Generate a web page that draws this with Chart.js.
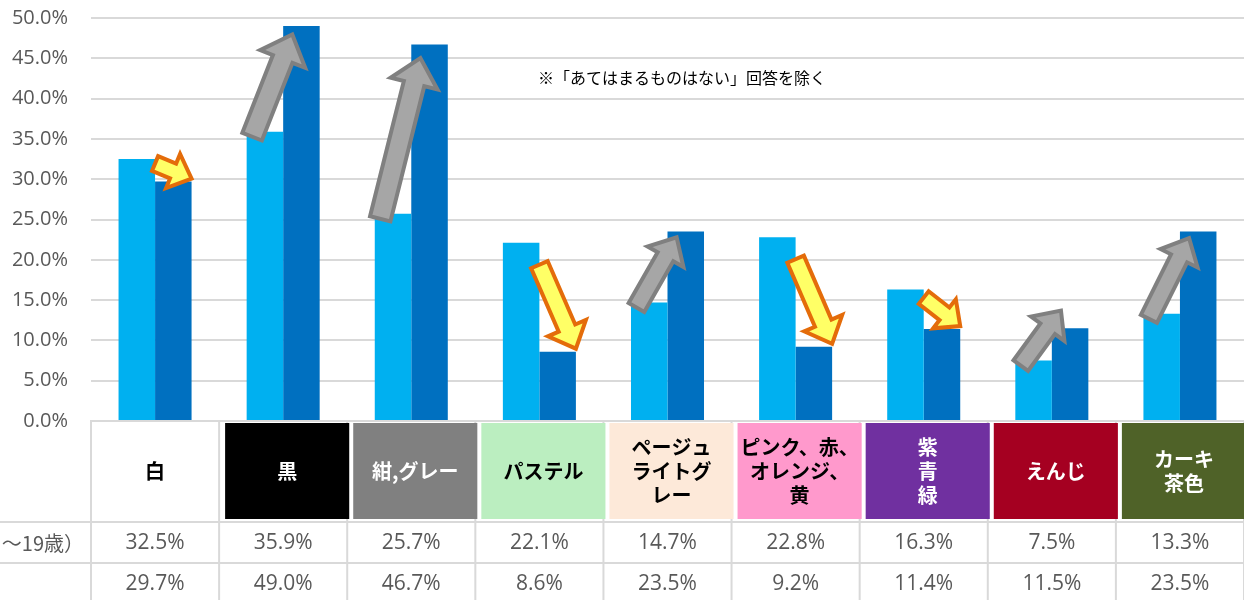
<!DOCTYPE html>
<html>
<head>
<meta charset="utf-8">
<script src="https://cdn.jsdelivr.net/npm/chart.js@4"></script>
<style>
  html, body { margin: 0; padding: 0; background: #fff; }
  #wrap { width: 1244px; height: 600px; }
</style>
</head>
<body>
<div id="wrap"><canvas id="colorChart" width="1244" height="600"></canvas></div>
<script>
// categories (header cells of the table), each entry is the lines of the cell
const categories = [
    ['白'], ['黒'], ['紺,グレー'], ['パステル'], ['ページュ', 'ライトグ', 'レー'],
    ['ピンク、赤、', 'オレンジ、', '黄'], ['紫', '青', '緑'], ['えんじ'], ['カーキ', '茶色']
];
const rowLabels = ['〜19歳）', ''];
const teenValues = [32.5, 35.9, 25.7, 22.1, 14.7, 22.8, 16.3, 7.5, 13.3];
const otherValues = [29.7, 49.0, 46.7, 8.6, 23.5, 9.2, 11.4, 11.5, 23.5];
const yTicks = [0, 5, 10, 15, 20, 25, 30, 35, 40, 45, 50];
const note = '※「あてはまるものはない」回答を除く';

// cell styles
const cellFill = ['#FFFFFF', '#000000', '#808080', '#BBEEC0', '#FDE9D9', '#FF99CC', '#7030A0', '#A50021', '#4F6228'];
const cellText = ['#000', '#fff', '#fff', '#000', '#000', '#000', '#fff', '#fff', '#fff'];

const GRID = '#d9d9d9';
const JP = '"Noto Sans CJK JP", sans-serif';
const NUM = '"Open Sans", sans-serif';

function drawArrow(ctx, x1, y1, x2, y2, s, h, hl, fill, stroke) {
    const L = Math.hypot(x2 - x1, y2 - y1);
    const ang = Math.atan2(y2 - y1, x2 - x1);
    ctx.save();
    ctx.translate(x1, y1);
    ctx.rotate(ang);
    ctx.beginPath();
    ctx.moveTo(0, -s / 2);
    ctx.lineTo(L - hl, -s / 2);
    ctx.lineTo(L - hl, -h / 2);
    ctx.lineTo(L, 0);
    ctx.lineTo(L - hl, h / 2);
    ctx.lineTo(L - hl, s / 2);
    ctx.lineTo(0, s / 2);
    ctx.closePath();
    ctx.fillStyle = fill;
    ctx.fill();
    ctx.lineWidth = 4;
    ctx.lineJoin = 'miter';
    ctx.strokeStyle = stroke;
    ctx.stroke();
    ctx.restore();
}

const extras = {
    id: 'extras',
    afterDatasetsDraw(chart) {
        const ctx = chart.ctx;
        const light = chart.getDatasetMeta(0).data;
        const dark = chart.getDatasetMeta(1).data;
        light.forEach((a, i) => {
            const b = dark[i];
            const w = a.width;
            let x1, y1, x2, y2, fill, stroke;
            if (teenValues[i] < otherValues[i]) {
                x1 = a.x - 0.35 * w; y1 = a.y + 5;
                x2 = b.x - 0.25 * w; y2 = Math.min(b.y + 0.08 * (a.y - b.y), a.y - 50);
                fill = '#A6A6A6'; stroke = '#808080';
            } else {
                x1 = a.x + w / 2; y1 = a.y + 0.2 * (b.y - a.y);
                x2 = b.x + w / 2; y2 = b.y - 3;
                fill = '#FFFF66'; stroke = '#E46C0A';
            }
            const L = Math.hypot(x2 - x1, y2 - y1);
            const s = L > 100 ? 21 : (L > 60 ? 18 : 16);
            drawArrow(ctx, x1, y1, x2, y2, s, s * 2.3, s * 1.25, fill, stroke);
        });
    },
    afterDraw(chart) {
        const ctx = chart.ctx;
        const area = chart.chartArea;
        const n = categories.length;
        const cw = (area.right - area.left) / n;
        const top = area.bottom;
        const r1 = top + 101, r2 = top + 142, bottom = chart.height;
        ctx.save();

        // table lines
        ctx.strokeStyle = GRID;
        ctx.lineWidth = 2;
        ctx.beginPath();
        for (let i = 0; i <= n; i++) {
            const x = area.left + i * cw;
            ctx.moveTo(x, top); ctx.lineTo(x, bottom);
        }
        ctx.moveTo(0, r1); ctx.lineTo(chart.width, r1);
        ctx.moveTo(0, r2); ctx.lineTo(chart.width, r2);
        ctx.stroke();

        // header cells
        for (let i = 0; i < n; i++) {
            const x0 = area.left + i * cw;
            if (i > 0) {
                ctx.fillStyle = cellFill[i];
                ctx.fillRect(x0 + 6, top + 2, cw - 4, 96);
            }
            const cx = i > 0 ? x0 + 6 + (cw - 4) / 2 : x0 + cw / 2;
            const lines = categories[i];
            const lh = 24;
            ctx.fillStyle = cellText[i];
            ctx.font = 'bold 20px ' + JP;
            ctx.textAlign = 'center';
            ctx.textBaseline = 'middle';
            lines.forEach((t, k) => {
                ctx.fillText(t, cx, top + 50 + (k - (lines.length - 1) / 2) * lh);
            });

            // value rows
            ctx.fillStyle = '#595959';
            ctx.font = '21px ' + NUM;
            ctx.fillText(teenValues[i].toFixed(1) + '%', x0 + cw / 2, (r1 + r2) / 2 + 1);
            ctx.fillText(otherValues[i].toFixed(1) + '%', x0 + cw / 2, r2 + 21);
        }

        // row labels
        ctx.fillStyle = '#595959';
        ctx.font = '20px ' + JP;
        ctx.textAlign = 'right';
        ctx.fillText(rowLabels[0], 84, (r1 + r2) / 2 + 1);
        ctx.fillText(rowLabels[1], 84, r2 + 21);

        // note
        ctx.fillStyle = '#000';
        ctx.font = '16px ' + JP;
        ctx.textAlign = 'left';
        ctx.fillText(note, 538, 78);
        ctx.restore();
    }
};

const ctx = document.getElementById('colorChart').getContext('2d');
new Chart(ctx, {
    type: 'bar',
    data: {
        labels: categories,
        datasets: [
            { label: rowLabels[0], data: teenValues, backgroundColor: '#00B0F0' },
            { label: rowLabels[1], data: otherValues, backgroundColor: '#0070C0' }
        ]
    },
    options: {
        responsive: false,
        animation: false,
        devicePixelRatio: 1,
        layout: { padding: { top: 18, right: 0, bottom: 179, left: 0 } },
        datasets: { bar: { categoryPercentage: 0.57, barPercentage: 1.0 } },
        plugins: { legend: { display: false }, tooltip: { enabled: false } },
        scales: {
            x: {
                ticks: { display: false },
                grid: { display: false, drawTicks: false },
                border: { display: true, color: GRID, width: 2 }
            },
            y: {
                min: 0,
                max: 50,
                afterBuildTicks: (axis) => { axis.ticks = yTicks.map(v => ({ value: v })); },
                afterFit: (axis) => {
                    axis.width = 91;
                    axis.paddingTop = 0;
                    axis.paddingBottom = 0;
                },
                ticks: {
                    padding: 23,
                    color: '#595959',
                    font: { family: NUM, size: 20 },
                    callback: (v) => v.toFixed(1) + '%'
                },
                grid: { color: GRID, lineWidth: 2, drawTicks: false },
                border: { display: false }
            }
        }
    },
    plugins: [extras]
});
</script>
</body>
</html>
